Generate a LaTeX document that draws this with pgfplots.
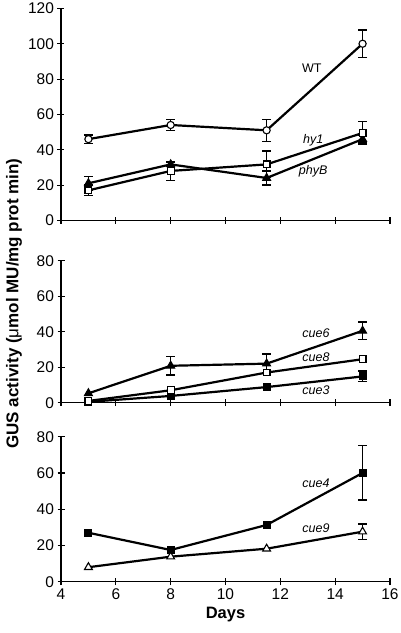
\documentclass[border=0pt]{standalone}
\usepackage{pgfplots}
\pgfplotsset{compat=1.18}
\usepackage{fontspec}
\setmainfont{Liberation Sans}
\pgfplotsset{
  panel/.style={
    scale only axis, width=329pt,
    xmin=4, xmax=16, ymin=0,
    axis lines=left,
    axis line style={-, line width=1.1pt},
    tick align=center,
    major tick length=7pt,
    tick style={line width=1.1pt, black},
    xtick={4,6,...,16},
    /pgf/number format/assume math mode=true,
    ticklabel style={font=\fontsize{15.5}{17}\selectfont},
    clip=false,
    every axis plot/.append style={line width=2.2pt, black},
  },
  errs/.style={draw=none, mark=none, forget plot,
    error bars/.cd, y dir=both, y explicit,
    error bar style={line width=1.3pt, black},
    error mark options={rotate=90, mark size=4.5pt, line width=1.3pt, black}},
}
\tikzset{lab/.style={font=\fontsize{12.5}{14}\selectfont\itshape}}
\begin{document}
\begin{tikzpicture}
\useasboundingbox (0,0) rectangle (400pt,633pt);
% top panel
\begin{axis}[panel, at={(61pt,412.6pt)}, anchor=south west, height=212pt,
  ymax=120, ytick={0,20,...,120}, xticklabels={}]
\addplot[errs] coordinates {(5,46)+-(0,2.3) (8,54)+-(0,3.1) (11.5,51)+-(0,6.3) (15,100)+-(0,7.7)};
\addplot[errs] coordinates {(5,17)+-(0,3) (8,28)+-(0,5.5) (11.5,31.7)+-(0,7.5) (15,49.5)+-(0,6.3)};
\addplot[errs] coordinates {(5,21)+-(0,4) (8,31.7)+-(0,1) (11.5,24)+-(0,4) (15,46)+-(0,2)};
\addplot[mark=*, mark size=3.6pt, mark options={fill=white, line width=1.1pt}] coordinates {(5,46) (8,54) (11.5,51) (15,100)};
\addplot[mark=triangle*, mark size=4.5pt, mark options={fill=black, line width=1.1pt}] coordinates {(5,21) (8,31.7) (11.5,24) (15,46)};
\addplot[mark=square*, mark size=3.4pt, mark options={fill=white, line width=1.1pt}] coordinates {(5,17) (8,28) (11.5,31.7) (15,49.5)};
\node[font=\fontsize{12.5}{14}\selectfont] at (axis cs:13.15,86) {WT};
\node[lab] at (axis cs:13.2,45.5) {hy1};
\node[lab] at (axis cs:13.2,28) {phyB};
\end{axis}
% middle panel
\begin{axis}[panel, at={(61pt,230.3pt)}, anchor=south west, height=142pt,
  ymax=80, ytick={0,20,...,80}, xticklabels={}]
\addplot[errs] coordinates {(8,20.8)+-(0,5.2) (11.5,22)+-(0,5.5) (15,40.5)+-(0,5)};
\addplot[errs] coordinates {(15,14.8)+-(0,3)};
\addplot[mark=triangle*, mark size=4.5pt, mark options={fill=black, line width=1.1pt}] coordinates {(5,5.3) (8,20.8) (11.5,22) (15,40.5)};
\addplot[mark=square*, mark size=3.4pt, mark options={fill=black, line width=1.1pt}] coordinates {(5,0.5) (8,3.8) (11.5,8.8) (15,14.8)};
\addplot[mark=square*, mark size=3.4pt, mark options={fill=white, line width=1.1pt}] coordinates {(5,1) (8,7) (11.5,17) (15,24.5)};
\node[lab] at (axis cs:13.3,39.4) {cue6};
\node[lab] at (axis cs:13.3,25.9) {cue8};
\node[lab] at (axis cs:13.3,6.8) {cue3};
\end{axis}
% bottom panel
\begin{axis}[panel, at={(61pt,51.3pt)}, anchor=south west, height=145pt,
  ymax=80, ytick={0,20,...,80},
  xlabel={Days}, xlabel style={font=\fontsize{16.5}{18}\selectfont\bfseries, yshift=-1pt}]
\addplot[errs] coordinates {(15,60)+-(0,15)};
\addplot[errs] coordinates {(15,27.6)+-(0,4.2)};
\addplot[mark=square*, mark size=3.4pt, mark options={fill=black, line width=1.1pt}] coordinates {(5,27) (8,17.5) (11.5,31.3) (15,60)};
\addplot[mark=triangle*, mark size=4.5pt, mark options={fill=white, line width=1.1pt}] coordinates {(5,8) (8,13.8) (11.5,18.2) (15,27.6)};
\node[lab] at (axis cs:13.3,54.3) {cue4};
\node[lab] at (axis cs:13.3,29.5) {cue9};
\end{axis}
\node[rotate=90, font=\fontsize{17}{18}\selectfont\bfseries] at (14pt,329.5pt) {GUS activity (\textmd{μ}mol MU/mg prot min)};
\end{tikzpicture}
\end{document}
